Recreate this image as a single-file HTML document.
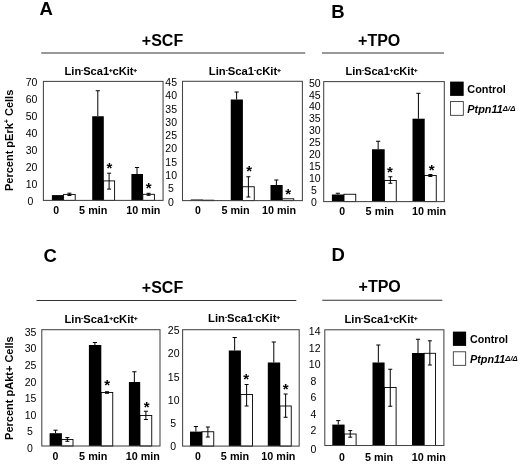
<!DOCTYPE html>
<html><head><meta charset="utf-8"><title>Figure</title>
<style>
html,body{margin:0;padding:0;background:#fff;}
body{width:520px;height:465px;overflow:hidden;}
svg{display:block;will-change:transform;font-family:"Liberation Sans",sans-serif;fill:#000;}
</style></head><body>
<svg width="520" height="465" viewBox="0 0 520 465">
<rect x="0" y="0" width="520" height="465" fill="#fff"/>
<rect x="51.90" y="195.10" width="11.90" height="5.30" fill="#000"/>
<rect x="63.60" y="194.40" width="11.60" height="6.00" fill="#fff" stroke="#000" stroke-width="0.9"/>
<line x1="69.40" y1="193.20" x2="69.40" y2="195.50" stroke="#000" stroke-width="1"/>
<line x1="67.40" y1="193.20" x2="71.40" y2="193.20" stroke="#000" stroke-width="1"/>
<line x1="67.40" y1="195.50" x2="71.40" y2="195.50" stroke="#000" stroke-width="1"/>
<rect x="92.20" y="116.25" width="11.60" height="84.15" fill="#000"/>
<line x1="97.80" y1="90.75" x2="97.80" y2="116.25" stroke="#000" stroke-width="1"/>
<line x1="95.70" y1="90.75" x2="99.90" y2="90.75" stroke="#000" stroke-width="1"/>
<rect x="103.60" y="180.90" width="11.00" height="19.50" fill="#fff" stroke="#000" stroke-width="0.9"/>
<line x1="109.10" y1="173.20" x2="109.10" y2="189.10" stroke="#000" stroke-width="1"/>
<line x1="107.10" y1="173.20" x2="111.10" y2="173.20" stroke="#000" stroke-width="1"/>
<line x1="107.10" y1="189.10" x2="111.10" y2="189.10" stroke="#000" stroke-width="1"/>
<text x="109.30" y="173.47" font-size="15" font-weight="bold" text-anchor="middle">*</text>
<rect x="131.40" y="174.00" width="11.60" height="26.40" fill="#000"/>
<line x1="137.00" y1="167.50" x2="137.00" y2="174.00" stroke="#000" stroke-width="1"/>
<line x1="134.90" y1="167.50" x2="139.10" y2="167.50" stroke="#000" stroke-width="1"/>
<rect x="142.80" y="194.30" width="11.60" height="6.10" fill="#fff" stroke="#000" stroke-width="0.9"/>
<line x1="148.60" y1="193.30" x2="148.60" y2="195.30" stroke="#000" stroke-width="1"/>
<line x1="146.60" y1="193.30" x2="150.60" y2="193.30" stroke="#000" stroke-width="1"/>
<line x1="146.60" y1="195.30" x2="150.60" y2="195.30" stroke="#000" stroke-width="1"/>
<text x="148.75" y="193.28" font-size="15" font-weight="bold" text-anchor="middle">*</text>
<rect x="43.40" y="81.40" width="119.65" height="119.00" fill="none" stroke="#444" stroke-width="1.05"/>
<text x="31.50" y="85.96" font-size="10.5" font-weight="normal" font-style="normal" text-anchor="middle">70</text>
<text x="31.50" y="102.99" font-size="10.5" font-weight="normal" font-style="normal" text-anchor="middle">60</text>
<text x="31.50" y="120.02" font-size="10.5" font-weight="normal" font-style="normal" text-anchor="middle">50</text>
<text x="31.50" y="137.05" font-size="10.5" font-weight="normal" font-style="normal" text-anchor="middle">40</text>
<text x="31.50" y="154.08" font-size="10.5" font-weight="normal" font-style="normal" text-anchor="middle">30</text>
<text x="31.50" y="171.11" font-size="10.5" font-weight="normal" font-style="normal" text-anchor="middle">20</text>
<text x="31.50" y="188.14" font-size="10.5" font-weight="normal" font-style="normal" text-anchor="middle">10</text>
<text x="30.30" y="205.17" font-size="10.5" font-weight="normal" font-style="normal" text-anchor="middle">0</text>
<text x="56.25" y="213.76" font-size="10.5" font-weight="bold" font-style="normal" text-anchor="middle">0</text>
<text x="93.25" y="213.76" font-size="10.5" font-weight="bold" font-style="normal" text-anchor="middle" textLength="28.3" lengthAdjust="spacingAndGlyphs">5 min</text>
<text x="143.40" y="213.76" font-size="10.5" font-weight="bold" font-style="normal" text-anchor="middle" textLength="34.1" lengthAdjust="spacingAndGlyphs">10 min</text>
<text x="64.50" y="74.79" font-size="11" font-weight="bold" text-anchor="start" textLength="72.50" lengthAdjust="spacingAndGlyphs"><tspan>Lin</tspan><tspan font-size="5.83" stroke="#000" stroke-width="0.3" dy="-2.97">-</tspan><tspan dy="2.97">Sca1</tspan><tspan font-size="5.83" stroke="#000" stroke-width="0.3" dy="-2.97">+</tspan><tspan dy="2.97">cKit</tspan><tspan font-size="5.83" stroke="#000" stroke-width="0.3" dy="-2.97">+</tspan></text>
<rect x="190.75" y="199.50" width="11.90" height="1.10" fill="#000"/>
<rect x="202.25" y="200.20" width="11.50" height="0.40" fill="#fff" stroke="#000" stroke-width="0.9"/>
<rect x="230.75" y="99.50" width="12.15" height="101.10" fill="#000"/>
<line x1="236.62" y1="92.00" x2="236.62" y2="99.50" stroke="#000" stroke-width="1"/>
<line x1="234.53" y1="92.00" x2="238.72" y2="92.00" stroke="#000" stroke-width="1"/>
<rect x="242.50" y="186.75" width="11.75" height="13.85" fill="#fff" stroke="#000" stroke-width="0.9"/>
<line x1="248.38" y1="176.75" x2="248.38" y2="197.00" stroke="#000" stroke-width="1"/>
<line x1="246.38" y1="176.75" x2="250.38" y2="176.75" stroke="#000" stroke-width="1"/>
<line x1="246.38" y1="197.00" x2="250.38" y2="197.00" stroke="#000" stroke-width="1"/>
<text x="249.25" y="176.03" font-size="15" font-weight="bold" text-anchor="middle">*</text>
<rect x="270.50" y="185.00" width="12.15" height="15.60" fill="#000"/>
<line x1="276.38" y1="180.00" x2="276.38" y2="185.00" stroke="#000" stroke-width="1"/>
<line x1="274.27" y1="180.00" x2="278.48" y2="180.00" stroke="#000" stroke-width="1"/>
<rect x="282.25" y="198.80" width="11.50" height="1.80" fill="#fff" stroke="#000" stroke-width="0.9"/>
<text x="288.25" y="199.03" font-size="15" font-weight="bold" text-anchor="middle">*</text>
<rect x="182.50" y="81.30" width="119.90" height="119.30" fill="none" stroke="#444" stroke-width="1.05"/>
<text x="171.20" y="85.96" font-size="10.5" font-weight="normal" font-style="normal" text-anchor="middle">45</text>
<text x="171.20" y="99.26" font-size="10.5" font-weight="normal" font-style="normal" text-anchor="middle">40</text>
<text x="171.20" y="112.56" font-size="10.5" font-weight="normal" font-style="normal" text-anchor="middle">35</text>
<text x="171.20" y="125.86" font-size="10.5" font-weight="normal" font-style="normal" text-anchor="middle">30</text>
<text x="171.20" y="139.16" font-size="10.5" font-weight="normal" font-style="normal" text-anchor="middle">25</text>
<text x="171.20" y="152.46" font-size="10.5" font-weight="normal" font-style="normal" text-anchor="middle">20</text>
<text x="171.20" y="165.76" font-size="10.5" font-weight="normal" font-style="normal" text-anchor="middle">15</text>
<text x="171.20" y="179.06" font-size="10.5" font-weight="normal" font-style="normal" text-anchor="middle">10</text>
<text x="170.80" y="192.36" font-size="10.5" font-weight="normal" font-style="normal" text-anchor="middle">5</text>
<text x="170.80" y="205.66" font-size="10.5" font-weight="normal" font-style="normal" text-anchor="middle">0</text>
<text x="198.00" y="213.76" font-size="10.5" font-weight="bold" font-style="normal" text-anchor="middle">0</text>
<text x="235.60" y="213.76" font-size="10.5" font-weight="bold" font-style="normal" text-anchor="middle" textLength="28.3" lengthAdjust="spacingAndGlyphs">5 min</text>
<text x="279.00" y="213.76" font-size="10.5" font-weight="bold" font-style="normal" text-anchor="middle" textLength="34.1" lengthAdjust="spacingAndGlyphs">10 min</text>
<text x="208.75" y="74.79" font-size="11" font-weight="bold" text-anchor="start" textLength="72.00" lengthAdjust="spacingAndGlyphs"><tspan>Lin</tspan><tspan font-size="5.83" stroke="#000" stroke-width="0.3" dy="-2.97">-</tspan><tspan dy="2.97">Sca1</tspan><tspan font-size="5.83" stroke="#000" stroke-width="0.3" dy="-2.97">-</tspan><tspan dy="2.97">cKit</tspan><tspan font-size="5.83" stroke="#000" stroke-width="0.3" dy="-2.97">+</tspan></text>
<rect x="331.90" y="194.50" width="12.30" height="7.10" fill="#000"/>
<line x1="337.85" y1="193.25" x2="337.85" y2="194.50" stroke="#000" stroke-width="1"/>
<line x1="335.75" y1="193.25" x2="339.95" y2="193.25" stroke="#000" stroke-width="1"/>
<rect x="344.00" y="194.25" width="11.75" height="7.35" fill="#fff" stroke="#000" stroke-width="0.9"/>
<rect x="372.00" y="149.25" width="12.70" height="52.35" fill="#000"/>
<line x1="378.15" y1="141.25" x2="378.15" y2="149.25" stroke="#000" stroke-width="1"/>
<line x1="376.05" y1="141.25" x2="380.25" y2="141.25" stroke="#000" stroke-width="1"/>
<rect x="384.50" y="180.50" width="11.75" height="21.10" fill="#fff" stroke="#000" stroke-width="0.9"/>
<line x1="390.38" y1="176.75" x2="390.38" y2="183.25" stroke="#000" stroke-width="1"/>
<line x1="388.38" y1="176.75" x2="392.38" y2="176.75" stroke="#000" stroke-width="1"/>
<line x1="388.38" y1="183.25" x2="392.38" y2="183.25" stroke="#000" stroke-width="1"/>
<text x="390.00" y="176.53" font-size="15" font-weight="bold" text-anchor="middle">*</text>
<rect x="412.50" y="118.70" width="12.20" height="82.90" fill="#000"/>
<line x1="418.40" y1="93.30" x2="418.40" y2="118.70" stroke="#000" stroke-width="1"/>
<line x1="416.30" y1="93.30" x2="420.50" y2="93.30" stroke="#000" stroke-width="1"/>
<rect x="424.50" y="175.50" width="11.75" height="26.10" fill="#fff" stroke="#000" stroke-width="0.9"/>
<line x1="430.38" y1="174.50" x2="430.38" y2="176.50" stroke="#000" stroke-width="1"/>
<line x1="428.38" y1="174.50" x2="432.38" y2="174.50" stroke="#000" stroke-width="1"/>
<line x1="428.38" y1="176.50" x2="432.38" y2="176.50" stroke="#000" stroke-width="1"/>
<text x="431.75" y="175.28" font-size="15" font-weight="bold" text-anchor="middle">*</text>
<rect x="323.70" y="81.60" width="120.60" height="120.00" fill="none" stroke="#444" stroke-width="1.05"/>
<text x="314.80" y="86.56" font-size="10.5" font-weight="normal" font-style="normal" text-anchor="middle">50</text>
<text x="314.80" y="98.51" font-size="10.5" font-weight="normal" font-style="normal" text-anchor="middle">45</text>
<text x="314.80" y="110.46" font-size="10.5" font-weight="normal" font-style="normal" text-anchor="middle">40</text>
<text x="314.80" y="122.41" font-size="10.5" font-weight="normal" font-style="normal" text-anchor="middle">35</text>
<text x="314.80" y="134.36" font-size="10.5" font-weight="normal" font-style="normal" text-anchor="middle">30</text>
<text x="314.80" y="146.31" font-size="10.5" font-weight="normal" font-style="normal" text-anchor="middle">25</text>
<text x="314.80" y="158.26" font-size="10.5" font-weight="normal" font-style="normal" text-anchor="middle">20</text>
<text x="314.80" y="170.21" font-size="10.5" font-weight="normal" font-style="normal" text-anchor="middle">15</text>
<text x="314.80" y="182.16" font-size="10.5" font-weight="normal" font-style="normal" text-anchor="middle">10</text>
<text x="313.90" y="194.11" font-size="10.5" font-weight="normal" font-style="normal" text-anchor="middle">5</text>
<text x="313.90" y="206.06" font-size="10.5" font-weight="normal" font-style="normal" text-anchor="middle">0</text>
<text x="342.25" y="215.16" font-size="10.5" font-weight="bold" font-style="normal" text-anchor="middle">0</text>
<text x="379.75" y="215.16" font-size="10.5" font-weight="bold" font-style="normal" text-anchor="middle" textLength="28.3" lengthAdjust="spacingAndGlyphs">5 min</text>
<text x="429.00" y="215.16" font-size="10.5" font-weight="bold" font-style="normal" text-anchor="middle" textLength="34.1" lengthAdjust="spacingAndGlyphs">10 min</text>
<text x="345.50" y="74.79" font-size="11" font-weight="bold" text-anchor="start" textLength="72.00" lengthAdjust="spacingAndGlyphs"><tspan>Lin</tspan><tspan font-size="5.83" stroke="#000" stroke-width="0.3" dy="-2.97">-</tspan><tspan dy="2.97">Sca1</tspan><tspan font-size="5.83" stroke="#000" stroke-width="0.3" dy="-2.97">+</tspan><tspan dy="2.97">cKit</tspan><tspan font-size="5.83" stroke="#000" stroke-width="0.3" dy="-2.97">+</tspan></text>
<rect x="49.60" y="433.20" width="12.30" height="12.80" fill="#000"/>
<line x1="55.55" y1="430.20" x2="55.55" y2="433.20" stroke="#000" stroke-width="1"/>
<line x1="53.45" y1="430.20" x2="57.65" y2="430.20" stroke="#000" stroke-width="1"/>
<rect x="61.70" y="439.50" width="11.30" height="6.50" fill="#fff" stroke="#000" stroke-width="0.9"/>
<line x1="67.35" y1="437.60" x2="67.35" y2="441.30" stroke="#000" stroke-width="1"/>
<line x1="65.35" y1="437.60" x2="69.35" y2="437.60" stroke="#000" stroke-width="1"/>
<line x1="65.35" y1="441.30" x2="69.35" y2="441.30" stroke="#000" stroke-width="1"/>
<rect x="88.90" y="345.00" width="12.40" height="101.00" fill="#000"/>
<line x1="94.90" y1="342.50" x2="94.90" y2="345.00" stroke="#000" stroke-width="1"/>
<line x1="92.80" y1="342.50" x2="97.00" y2="342.50" stroke="#000" stroke-width="1"/>
<rect x="101.25" y="392.50" width="11.50" height="53.50" fill="#fff" stroke="#000" stroke-width="0.9"/>
<line x1="107.00" y1="391.75" x2="107.00" y2="393.25" stroke="#000" stroke-width="1"/>
<line x1="105.00" y1="391.75" x2="109.00" y2="391.75" stroke="#000" stroke-width="1"/>
<line x1="105.00" y1="393.25" x2="109.00" y2="393.25" stroke="#000" stroke-width="1"/>
<text x="107.25" y="389.77" font-size="15" font-weight="bold" text-anchor="middle">*</text>
<rect x="128.90" y="382.00" width="11.30" height="64.00" fill="#000"/>
<line x1="134.35" y1="371.75" x2="134.35" y2="382.00" stroke="#000" stroke-width="1"/>
<line x1="132.25" y1="371.75" x2="136.45" y2="371.75" stroke="#000" stroke-width="1"/>
<rect x="140.00" y="415.50" width="11.75" height="30.50" fill="#fff" stroke="#000" stroke-width="0.9"/>
<line x1="145.88" y1="411.25" x2="145.88" y2="419.50" stroke="#000" stroke-width="1"/>
<line x1="143.88" y1="411.25" x2="147.88" y2="411.25" stroke="#000" stroke-width="1"/>
<line x1="143.88" y1="419.50" x2="147.88" y2="419.50" stroke="#000" stroke-width="1"/>
<text x="146.75" y="412.27" font-size="15" font-weight="bold" text-anchor="middle">*</text>
<rect x="41.80" y="329.70" width="118.20" height="116.30" fill="none" stroke="#444" stroke-width="1.05"/>
<text x="30.50" y="335.86" font-size="10.5" font-weight="normal" font-style="normal" text-anchor="middle">35</text>
<text x="30.50" y="352.42" font-size="10.5" font-weight="normal" font-style="normal" text-anchor="middle">30</text>
<text x="30.50" y="368.98" font-size="10.5" font-weight="normal" font-style="normal" text-anchor="middle">25</text>
<text x="30.50" y="385.54" font-size="10.5" font-weight="normal" font-style="normal" text-anchor="middle">20</text>
<text x="30.50" y="402.10" font-size="10.5" font-weight="normal" font-style="normal" text-anchor="middle">15</text>
<text x="30.50" y="418.66" font-size="10.5" font-weight="normal" font-style="normal" text-anchor="middle">10</text>
<text x="30.00" y="435.22" font-size="10.5" font-weight="normal" font-style="normal" text-anchor="middle">5</text>
<text x="30.00" y="451.78" font-size="10.5" font-weight="normal" font-style="normal" text-anchor="middle">0</text>
<text x="55.50" y="460.46" font-size="10.5" font-weight="bold" font-style="normal" text-anchor="middle">0</text>
<text x="93.25" y="460.46" font-size="10.5" font-weight="bold" font-style="normal" text-anchor="middle" textLength="28.3" lengthAdjust="spacingAndGlyphs">5 min</text>
<text x="142.75" y="460.46" font-size="10.5" font-weight="bold" font-style="normal" text-anchor="middle" textLength="34.1" lengthAdjust="spacingAndGlyphs">10 min</text>
<text x="64.50" y="322.54" font-size="11" font-weight="bold" text-anchor="start" textLength="73.00" lengthAdjust="spacingAndGlyphs"><tspan>Lin</tspan><tspan font-size="5.83" stroke="#000" stroke-width="0.3" dy="-2.97">-</tspan><tspan dy="2.97">Sca1</tspan><tspan font-size="5.83" stroke="#000" stroke-width="0.3" dy="-2.97">+</tspan><tspan dy="2.97">cKit</tspan><tspan font-size="5.83" stroke="#000" stroke-width="0.3" dy="-2.97">+</tspan></text>
<rect x="190.00" y="431.60" width="12.20" height="14.50" fill="#000"/>
<line x1="195.90" y1="426.50" x2="195.90" y2="431.60" stroke="#000" stroke-width="1"/>
<line x1="193.80" y1="426.50" x2="198.00" y2="426.50" stroke="#000" stroke-width="1"/>
<rect x="202.00" y="431.75" width="11.75" height="14.35" fill="#fff" stroke="#000" stroke-width="0.9"/>
<line x1="207.88" y1="427.00" x2="207.88" y2="437.00" stroke="#000" stroke-width="1"/>
<line x1="205.88" y1="427.00" x2="209.88" y2="427.00" stroke="#000" stroke-width="1"/>
<line x1="205.88" y1="437.00" x2="209.88" y2="437.00" stroke="#000" stroke-width="1"/>
<rect x="228.80" y="350.50" width="12.10" height="95.60" fill="#000"/>
<line x1="234.65" y1="337.50" x2="234.65" y2="350.50" stroke="#000" stroke-width="1"/>
<line x1="232.55" y1="337.50" x2="236.75" y2="337.50" stroke="#000" stroke-width="1"/>
<rect x="240.75" y="394.50" width="11.75" height="51.60" fill="#fff" stroke="#000" stroke-width="0.9"/>
<line x1="246.62" y1="384.50" x2="246.62" y2="406.00" stroke="#000" stroke-width="1"/>
<line x1="244.62" y1="384.50" x2="248.62" y2="384.50" stroke="#000" stroke-width="1"/>
<line x1="244.62" y1="406.00" x2="248.62" y2="406.00" stroke="#000" stroke-width="1"/>
<text x="246.25" y="384.27" font-size="15" font-weight="bold" text-anchor="middle">*</text>
<rect x="267.80" y="362.50" width="12.40" height="83.60" fill="#000"/>
<line x1="273.80" y1="342.00" x2="273.80" y2="362.50" stroke="#000" stroke-width="1"/>
<line x1="271.70" y1="342.00" x2="275.90" y2="342.00" stroke="#000" stroke-width="1"/>
<rect x="280.00" y="406.00" width="11.25" height="40.10" fill="#fff" stroke="#000" stroke-width="0.9"/>
<line x1="285.62" y1="394.00" x2="285.62" y2="417.25" stroke="#000" stroke-width="1"/>
<line x1="283.62" y1="394.00" x2="287.62" y2="394.00" stroke="#000" stroke-width="1"/>
<line x1="283.62" y1="417.25" x2="287.62" y2="417.25" stroke="#000" stroke-width="1"/>
<text x="285.75" y="394.27" font-size="15" font-weight="bold" text-anchor="middle">*</text>
<rect x="182.60" y="329.70" width="116.60" height="116.40" fill="none" stroke="#444" stroke-width="1.05"/>
<text x="173.70" y="334.16" font-size="10.5" font-weight="normal" font-style="normal" text-anchor="middle">25</text>
<text x="173.70" y="357.41" font-size="10.5" font-weight="normal" font-style="normal" text-anchor="middle">20</text>
<text x="173.70" y="380.66" font-size="10.5" font-weight="normal" font-style="normal" text-anchor="middle">15</text>
<text x="173.70" y="403.91" font-size="10.5" font-weight="normal" font-style="normal" text-anchor="middle">10</text>
<text x="173.20" y="427.16" font-size="10.5" font-weight="normal" font-style="normal" text-anchor="middle">5</text>
<text x="173.20" y="450.41" font-size="10.5" font-weight="normal" font-style="normal" text-anchor="middle">0</text>
<text x="198.00" y="460.46" font-size="10.5" font-weight="bold" font-style="normal" text-anchor="middle">0</text>
<text x="235.00" y="460.46" font-size="10.5" font-weight="bold" font-style="normal" text-anchor="middle" textLength="28.3" lengthAdjust="spacingAndGlyphs">5 min</text>
<text x="278.40" y="460.46" font-size="10.5" font-weight="bold" font-style="normal" text-anchor="middle" textLength="34.1" lengthAdjust="spacingAndGlyphs">10 min</text>
<text x="208.00" y="322.29" font-size="11" font-weight="bold" text-anchor="start" textLength="72.00" lengthAdjust="spacingAndGlyphs"><tspan>Lin</tspan><tspan font-size="5.83" stroke="#000" stroke-width="0.3" dy="-2.97">-</tspan><tspan dy="2.97">Sca1</tspan><tspan font-size="5.83" stroke="#000" stroke-width="0.3" dy="-2.97">-</tspan><tspan dy="2.97">cKit</tspan><tspan font-size="5.83" stroke="#000" stroke-width="0.3" dy="-2.97">+</tspan></text>
<rect x="332.30" y="424.60" width="12.30" height="20.90" fill="#000"/>
<line x1="338.25" y1="420.60" x2="338.25" y2="424.60" stroke="#000" stroke-width="1"/>
<line x1="336.15" y1="420.60" x2="340.35" y2="420.60" stroke="#000" stroke-width="1"/>
<rect x="344.40" y="434.00" width="11.70" height="11.50" fill="#fff" stroke="#000" stroke-width="0.9"/>
<line x1="350.25" y1="430.60" x2="350.25" y2="437.20" stroke="#000" stroke-width="1"/>
<line x1="348.25" y1="430.60" x2="352.25" y2="430.60" stroke="#000" stroke-width="1"/>
<line x1="348.25" y1="437.20" x2="352.25" y2="437.20" stroke="#000" stroke-width="1"/>
<rect x="372.50" y="362.50" width="12.10" height="83.00" fill="#000"/>
<line x1="378.35" y1="345.00" x2="378.35" y2="362.50" stroke="#000" stroke-width="1"/>
<line x1="376.25" y1="345.00" x2="380.45" y2="345.00" stroke="#000" stroke-width="1"/>
<rect x="384.40" y="387.50" width="11.70" height="58.00" fill="#fff" stroke="#000" stroke-width="0.9"/>
<line x1="390.25" y1="369.25" x2="390.25" y2="406.25" stroke="#000" stroke-width="1"/>
<line x1="388.25" y1="369.25" x2="392.25" y2="369.25" stroke="#000" stroke-width="1"/>
<line x1="388.25" y1="406.25" x2="392.25" y2="406.25" stroke="#000" stroke-width="1"/>
<rect x="412.00" y="353.00" width="12.40" height="92.50" fill="#000"/>
<line x1="418.00" y1="339.25" x2="418.00" y2="353.00" stroke="#000" stroke-width="1"/>
<line x1="415.90" y1="339.25" x2="420.10" y2="339.25" stroke="#000" stroke-width="1"/>
<rect x="424.20" y="353.30" width="11.30" height="92.20" fill="#fff" stroke="#000" stroke-width="0.9"/>
<line x1="429.85" y1="340.80" x2="429.85" y2="365.00" stroke="#000" stroke-width="1"/>
<line x1="427.85" y1="340.80" x2="431.85" y2="340.80" stroke="#000" stroke-width="1"/>
<line x1="427.85" y1="365.00" x2="431.85" y2="365.00" stroke="#000" stroke-width="1"/>
<rect x="324.80" y="329.80" width="119.10" height="115.70" fill="none" stroke="#444" stroke-width="1.05"/>
<text x="314.70" y="335.36" font-size="10.5" font-weight="normal" font-style="normal" text-anchor="middle">14</text>
<text x="314.70" y="351.81" font-size="10.5" font-weight="normal" font-style="normal" text-anchor="middle">12</text>
<text x="314.70" y="368.26" font-size="10.5" font-weight="normal" font-style="normal" text-anchor="middle">10</text>
<text x="313.50" y="384.71" font-size="10.5" font-weight="normal" font-style="normal" text-anchor="middle">8</text>
<text x="313.50" y="401.16" font-size="10.5" font-weight="normal" font-style="normal" text-anchor="middle">6</text>
<text x="313.50" y="417.61" font-size="10.5" font-weight="normal" font-style="normal" text-anchor="middle">4</text>
<text x="313.50" y="434.06" font-size="10.5" font-weight="normal" font-style="normal" text-anchor="middle">2</text>
<text x="313.50" y="452.76" font-size="10.5" font-weight="normal" font-style="normal" text-anchor="middle">0</text>
<text x="342.00" y="460.96" font-size="10.5" font-weight="bold" font-style="normal" text-anchor="middle">0</text>
<text x="379.10" y="460.96" font-size="10.5" font-weight="bold" font-style="normal" text-anchor="middle" textLength="28.3" lengthAdjust="spacingAndGlyphs">5 min</text>
<text x="428.75" y="460.96" font-size="10.5" font-weight="bold" font-style="normal" text-anchor="middle" textLength="34.1" lengthAdjust="spacingAndGlyphs">10 min</text>
<text x="344.50" y="322.54" font-size="11" font-weight="bold" text-anchor="start" textLength="73.00" lengthAdjust="spacingAndGlyphs"><tspan>Lin</tspan><tspan font-size="5.83" stroke="#000" stroke-width="0.3" dy="-2.97">-</tspan><tspan dy="2.97">Sca1</tspan><tspan font-size="5.83" stroke="#000" stroke-width="0.3" dy="-2.97">+</tspan><tspan dy="2.97">cKit</tspan><tspan font-size="5.83" stroke="#000" stroke-width="0.3" dy="-2.97">+</tspan></text>
<text x="46.20" y="14.92" font-size="18.5" font-weight="bold" font-style="normal" text-anchor="middle">A</text>
<text x="338.00" y="17.52" font-size="18.5" font-weight="bold" font-style="normal" text-anchor="middle">B</text>
<text x="50.20" y="261.82" font-size="18.5" font-weight="bold" font-style="normal" text-anchor="middle">C</text>
<text x="338.10" y="261.02" font-size="18.5" font-weight="bold" font-style="normal" text-anchor="middle">D</text>
<text x="162.50" y="46.03" font-size="16" font-weight="bold" font-style="normal" text-anchor="middle">+SCF</text>
<text x="379.20" y="45.63" font-size="16" font-weight="bold" font-style="normal" text-anchor="middle">+TPO</text>
<text x="162.50" y="293.03" font-size="16" font-weight="bold" font-style="normal" text-anchor="middle">+SCF</text>
<text x="379.70" y="291.53" font-size="16" font-weight="bold" font-style="normal" text-anchor="middle">+TPO</text>
<line x1="41.20" y1="53.00" x2="305.20" y2="53.00" stroke="#333" stroke-width="1.15"/>
<line x1="322.00" y1="53.00" x2="444.00" y2="53.00" stroke="#333" stroke-width="1.15"/>
<line x1="36.50" y1="300.45" x2="296.30" y2="300.45" stroke="#333" stroke-width="1.15"/>
<line x1="322.30" y1="300.20" x2="442.30" y2="300.20" stroke="#333" stroke-width="1.15"/>
<text transform="translate(9.00,140.40) rotate(-90)" x="0" y="3.94" font-size="11" font-weight="bold" text-anchor="middle" textLength="101.4" lengthAdjust="spacingAndGlyphs">Percent pErk<tspan font-size="7" dy="-3.7">+</tspan><tspan dy="3.7"> Cells</tspan></text>
<text transform="translate(8.90,388.10) rotate(-90)" x="0" y="3.94" font-size="11" font-weight="bold" text-anchor="middle" textLength="103.6" lengthAdjust="spacingAndGlyphs">Percent pAkt+ Cells</text>
<rect x="450.1" y="81.6" width="13.599999999999966" height="14.300000000000011" fill="#000"/>
<rect x="450.50" y="101.60" width="12.80" height="13.70" fill="#fff" stroke="#222" stroke-width="0.8"/>
<text x="467.30" y="92.69" font-size="11" font-weight="bold" font-style="normal" text-anchor="start" textLength="38.6" lengthAdjust="spacingAndGlyphs">Control</text>
<text x="467.3" y="112.69" font-size="10.6" font-weight="bold" font-style="italic" text-anchor="start" textLength="48.1" lengthAdjust="spacingAndGlyphs">Ptpn11<tspan font-size="7.6" dy="-1.5">Δ/Δ</tspan></text>
<rect x="452.9" y="331.6" width="13.200000000000045" height="14.299999999999955" fill="#000"/>
<rect x="453.30" y="351.80" width="12.40" height="13.50" fill="#fff" stroke="#222" stroke-width="0.8"/>
<text x="470.00" y="342.69" font-size="11" font-weight="bold" font-style="normal" text-anchor="start" textLength="38" lengthAdjust="spacingAndGlyphs">Control</text>
<text x="470" y="362.69" font-size="10.6" font-weight="bold" font-style="italic" text-anchor="start" textLength="47.8" lengthAdjust="spacingAndGlyphs">Ptpn11<tspan font-size="7.6" dy="-1.5">Δ/Δ</tspan></text>
</svg>
</body></html>
